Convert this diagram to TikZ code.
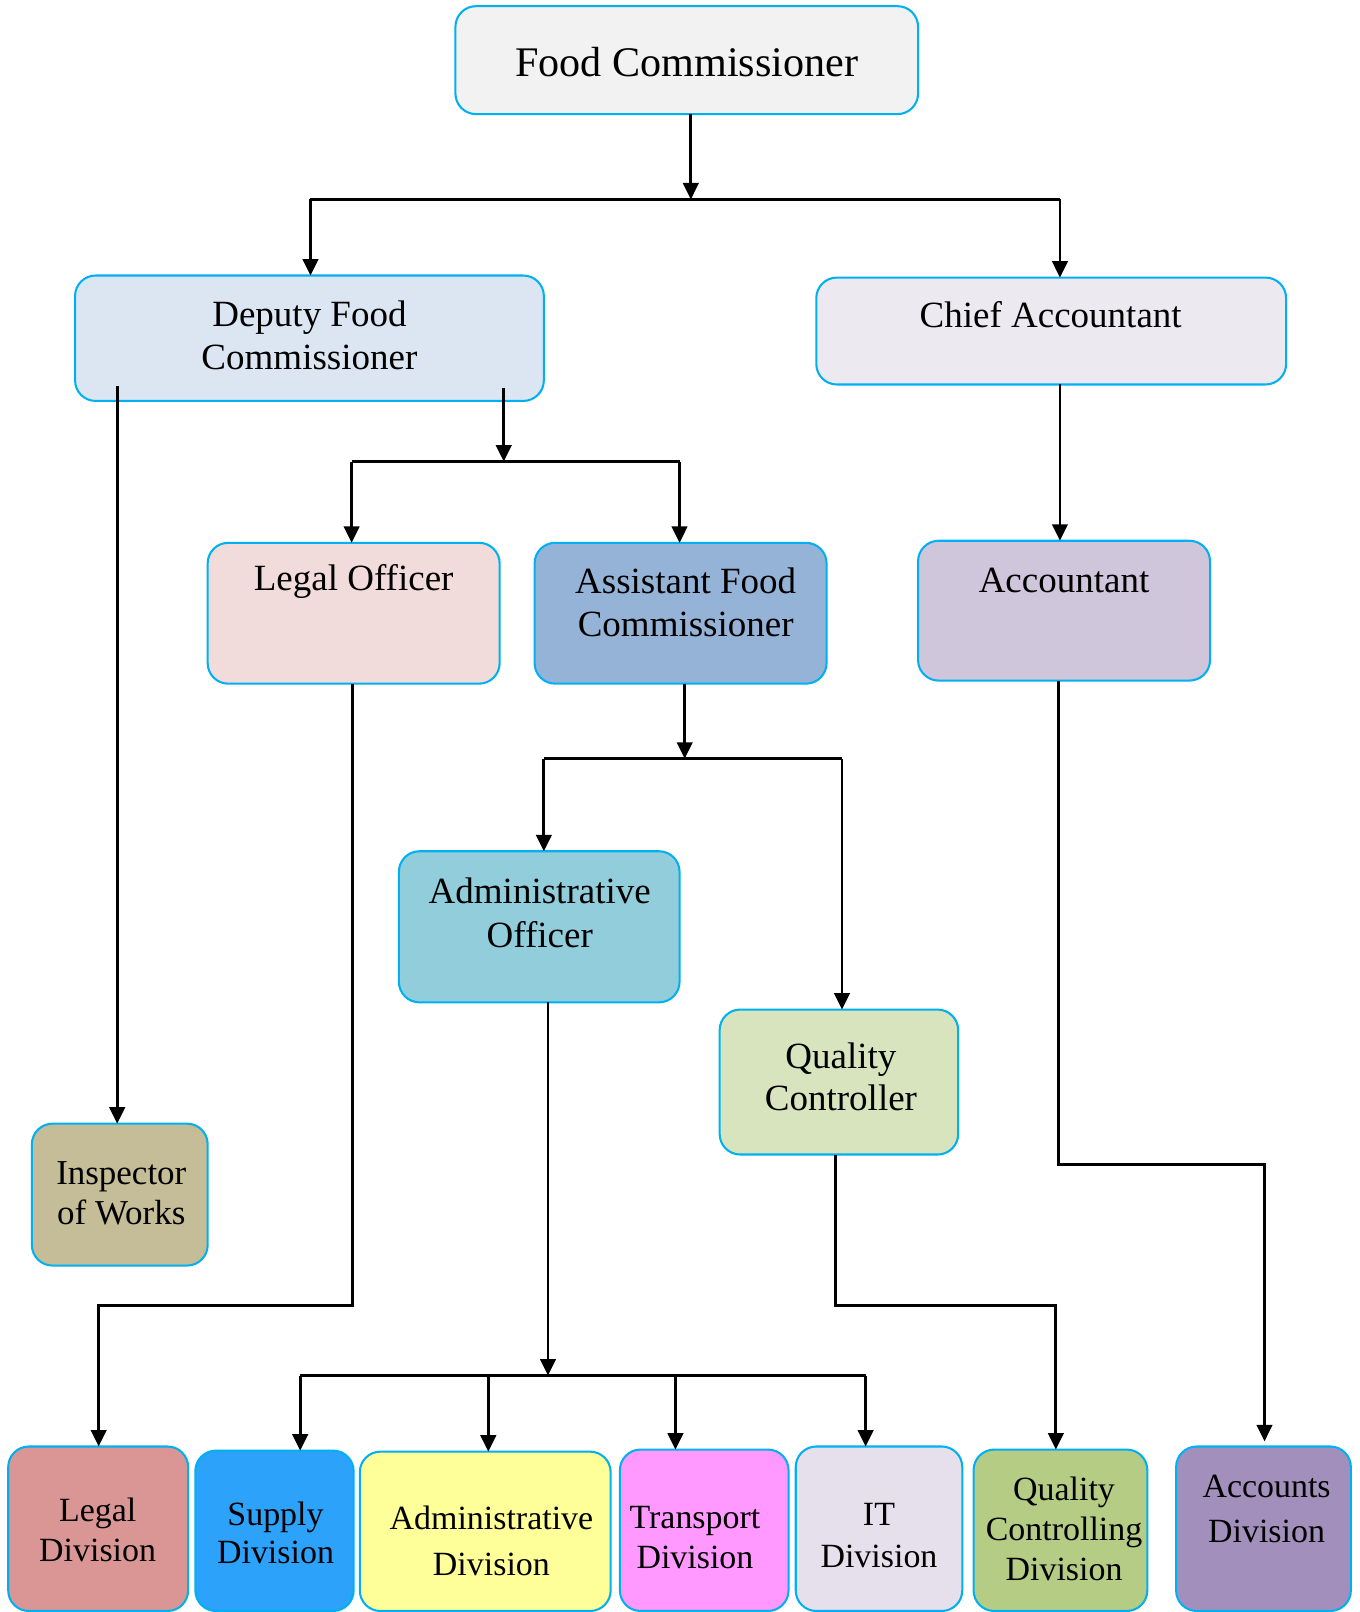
\documentclass[tikz,border=0pt]{standalone}
\usepackage{fontspec}
\setmainfont{Liberation Serif}
\usetikzlibrary{arrows.meta}
\definecolor{bord}{HTML}{00B0F0}
\definecolor{cFC}{HTML}{F2F2F2}
\definecolor{cDFC}{HTML}{DCE6F2}
\definecolor{cCA}{HTML}{ECE9F1}
\definecolor{cLO}{HTML}{F2DCDB}
\definecolor{cAFC}{HTML}{95B3D7}
\definecolor{cACC}{HTML}{CFC6DC}
\definecolor{cAO}{HTML}{92CDDC}
\definecolor{cQC}{HTML}{D7E4BD}
\definecolor{cIW}{HTML}{C4BD97}
\definecolor{cLD}{HTML}{D99694}
\definecolor{cSD}{HTML}{2CA2FB}
\definecolor{cAD}{HTML}{FFFF99}
\definecolor{cTD}{HTML}{FF99FF}
\definecolor{cITD}{HTML}{E5E0EC}
\definecolor{cQCD}{HTML}{B5CC85}
\definecolor{cACD}{HTML}{A38FBC}
\tikzset{
  box/.style={draw=bord, line width=2pt, rounded corners=20pt, anchor=north west, inner sep=0pt, outer sep=0pt},
  lbl/.style={align=center, inner sep=0pt, text=black},
  conn/.style={line width=2.8pt, draw=black},
  arr/.style={conn, -{Triangle[length=16pt,width=15pt]}},
}
\begin{document}
\begin{tikzpicture}[x=1pt,y=-1pt]
\useasboundingbox (0,0) rectangle (1322,1568);
% boxes
\node[box, fill=cFC,  minimum width=450pt, minimum height=105pt] (fc)  at (443,6) {};
\node[box, fill=cDFC, minimum width=456pt, minimum height=122pt] (dfc) at (73,268) {};
\node[box, fill=cCA,  minimum width=457pt, minimum height=104pt] (ca)  at (794,270) {};
\node[box, fill=cLO,  minimum width=284pt, minimum height=137pt] (lo)  at (202,528) {};
\node[box, fill=cAFC, minimum width=284pt, minimum height=137pt] (afc) at (520,528) {};
\node[box, fill=cACC, minimum width=284pt, minimum height=136pt] (acc) at (893,526) {};
\node[box, fill=cAO,  minimum width=273pt, minimum height=147pt] (ao)  at (388,828) {};
\node[box, fill=cQC,  minimum width=232pt, minimum height=141pt] (qc)  at (700,982) {};
\node[box, fill=cIW,  minimum width=171pt, minimum height=138pt] (iw)  at (31,1093) {};
\node[box, fill=cLD,  minimum width=175pt, minimum height=160pt] (ld)  at (8,1407) {};
\node[box, fill=cSD,  minimum width=154pt, minimum height=156pt] (sd)  at (190,1411) {};
\node[box, fill=cAD,  minimum width=244pt, minimum height=155pt] (ad)  at (350,1412) {};
\node[box, fill=cTD,  minimum width=164pt, minimum height=157pt] (td)  at (603,1410) {};
\node[box, fill=cITD, minimum width=162pt, minimum height=160pt] (itd) at (774,1407) {};
\node[box, fill=cQCD, minimum width=169pt, minimum height=157pt] (qcd) at (947,1410) {};
\node[box, fill=cACD, minimum width=170pt, minimum height=160pt] (acd) at (1144,1407) {};
% labels
\node[lbl, font=\fontsize{41}{49}\selectfont] (fct) at (668,60) {Food Commissioner};
\node[lbl, font=\fontsize{36}{42}\selectfont] (dfct) at (301,326) {Deputy Food\\Commissioner};
\node[lbl, font=\fontsize{36}{42}\selectfont] (cat) at (1022,306) {Chief Accountant};
\node[lbl, font=\fontsize{36}{42}\selectfont] (lot) at (344,566) {Legal Officer};
\node[lbl, font=\fontsize{36}{42}\selectfont] (afct) at (667,586) {Assistant Food\\Commissioner};
\node[lbl, font=\fontsize{36}{42}\selectfont] (acct) at (1035,565) {Accountant};
\node[lbl, font=\fontsize{36}{42}\selectfont] (aot) at (525,888) {Administrative\\Officer};
\node[lbl, font=\fontsize{36}{41}\selectfont] (qct) at (818,1047.5) {Quality\\Controller};
\node[lbl, font=\fontsize{34}{39}\selectfont] (iwt) at (118,1160.5) {Inspector\\of Works};
\node[lbl, font=\fontsize{33}{39}\selectfont] (ldt) at (95,1488.5) {Legal\\Division};
\node[lbl, font=\fontsize{33}{37}\selectfont] (sdt) at (268,1491.5) {Supply\\Division};
\node[lbl, font=\fontsize{33}{45}\selectfont] (adt) at (478,1498.5) {Administrative\\Division};
\node[lbl, font=\fontsize{33}{39}\selectfont] (tdt) at (676,1495.5) {Transport\\Division};
\node[lbl, font=\fontsize{33}{41}\selectfont] (itdt) at (855,1493.5) {IT\\Division};
\node[lbl, font=\fontsize{33}{39}\selectfont] (qcdt) at (1035,1487.5) {Quality\\Controlling\\Division};
\node[lbl, font=\fontsize{33}{44}\selectfont] (acdt) at (1232,1467.5) {Accounts\\Division};
% junction coordinates
\coordinate (j1) at (672,194);
\coordinate (j1l) at (302,194);
\coordinate (j1r) at (1031,194);
\coordinate (dfcL) at (114,375);
\coordinate (dfcR) at (490,377);
\coordinate (j2) at (490,449);
\coordinate (j2l) at (342,449);
\coordinate (j2r) at (661,449);
\coordinate (lo1) at (343,1270);
\coordinate (lo2) at (96,1270);
\coordinate (j3) at (666,738);
\coordinate (j3l) at (529,738);
\coordinate (j3r) at (819,738);
\coordinate (j4) at (533,1338);
\coordinate (j4a) at (292,1338);
\coordinate (j4b) at (475,1338);
\coordinate (j4c) at (657,1338);
\coordinate (j4d) at (842,1338);
\coordinate (qc1) at (813,1270);
\coordinate (qc2) at (1027,1270);
\coordinate (ac1) at (1030,1133);
\coordinate (ac2) at (1230,1133);
% connectors
\draw[arr] (fc.south -| j1) -- (j1);
\draw[conn] (j1l) -- (j1r);
\draw[arr] (j1l) -- (dfc.north -| j1l);
\draw[arr] (j1r) -- (ca.north -| j1r);
\draw[arr] (dfcL) -- (iw.north -| dfcL);
\draw[arr] (dfcR) -- (j2);
\draw[conn] (j2l) -- (j2r);
\draw[arr] (j2l) -- (lo.north -| j2l);
\draw[arr] (j2r) -- (afc.north -| j2r);
\draw[arr] (ca.south -| j1r) -- (acc.north -| j1r);
\draw[arr] (lo.south -| lo1) -- (lo1) -- (lo2) -- (ld.north -| lo2);
\draw[arr] (afc.south -| j3) -- (j3);
\draw[conn] (j3l) -- (j3r);
\draw[arr] (j3l) -- (ao.north -| j3l);
\draw[arr] (j3r) -- (qc.north -| j3r);
\draw[arr] (ao.south -| j4) -- (j4);
\draw[conn] (j4a) -- (j4d);
\draw[arr] (j4a) -- (sd.north -| j4a);
\draw[arr] (j4b) -- (ad.north -| j4b);
\draw[arr] (j4c) -- (td.north -| j4c);
\draw[arr] (j4d) -- (itd.north -| j4d);
\draw[arr] (qc.south -| qc1) -- (qc1) -- (qc2) -- (qcd.north -| qc2);
\draw[arr] (acc.south -| ac1) -- (ac1) -- (ac2) -- ([yshift=5pt]acd.north -| ac2);
\end{tikzpicture}
\end{document}
